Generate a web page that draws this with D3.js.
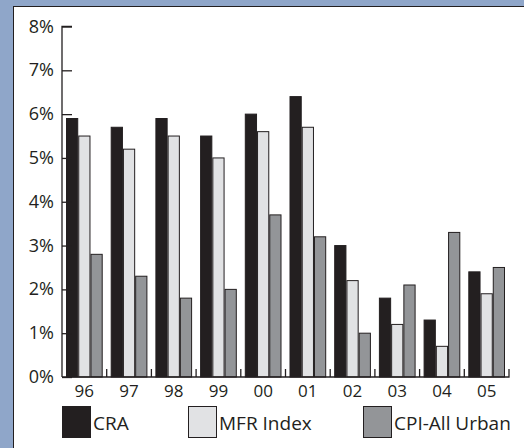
<!DOCTYPE html>
<html>
<head>
<meta charset="utf-8">
<script src="https://cdn.jsdelivr.net/npm/d3@7"></script>
<style>
  html, body { margin: 0; padding: 0; background: #8fa6c9; }
  svg { display: block; }
  text { font-family: "Open Sans", sans-serif; fill: #231f20; }
</style>
</head>
<body>
<div id="chart"></div>
<script>
const years = ["96", "97", "98", "99", "00", "01", "02", "03", "04", "05"];
const seriesNames = ["CRA", "MFR Index", "CPI-All Urban"];
const cra = [5.9, 5.7, 5.9, 5.5, 6.0, 6.4, 3.0, 1.8, 1.3, 2.4];
const mfr = [5.5, 5.2, 5.5, 5.0, 5.6, 5.7, 2.2, 1.2, 0.7, 1.9];
const cpi = [2.8, 2.3, 1.8, 2.0, 3.7, 3.2, 1.0, 2.1, 3.3, 2.5];
const yTicks = [0, 1, 2, 3, 4, 5, 6, 7, 8];
const colors = ["#231f20", "#e1e2e4", "#939598"];

const width = 524, height = 448;
const svg = d3.select("#chart").append("svg").attr("width", width).attr("height", height);

// white panel
svg.append("rect").attr("x", 13.5).attr("y", 6.5).attr("width", width).attr("height", height)
  .attr("fill", "#fff").attr("stroke", "#231f20").attr("stroke-width", 1);

const x0 = d3.scaleBand().domain(years).range([62, 509]).paddingInner(0).paddingOuter(0);
const x1 = d3.scaleBand().domain(seriesNames).range([4, x0.bandwidth() - 4]);
const y = d3.scaleLinear().domain([0, 8]).range([377, 26.5]);

const rows = years.map((yr, i) => ({ yr, vals: [cra[i], mfr[i], cpi[i]] }));

const groups = svg.append("g").selectAll("g").data(rows).enter().append("g")
  .attr("transform", d => `translate(${x0(d.yr)},0)`);
groups.selectAll("rect").data(d => d.vals.map((v, k) => ({ v, k }))).enter().append("rect")
  .attr("x", d => x1(seriesNames[d.k]) + 0.5)
  .attr("width", x1.bandwidth() - 1)
  .attr("y", d => y(d.v))
  .attr("height", d => y(0) - y(d.v))
  .attr("fill", d => colors[d.k])
  .attr("stroke", "#231f20")
  .attr("stroke-width", 1);

// y axis
const yAxis = svg.append("g").attr("transform", "translate(62,0)")
  .call(d3.axisRight(y).tickValues(yTicks).tickSize(10).tickFormat(""));
yAxis.selectAll("path, line").attr("stroke", "#231f20").attr("stroke-width", 1.3);
yAxis.select(".domain").attr("d", `M10,${y(8)}H0V${y(0)}`);
svg.append("g").selectAll("text").data(yTicks).enter().append("text")
  .attr("x", 54).attr("y", d => y(d) + 6).attr("text-anchor", "end")
  .attr("font-size", 18).text(d => d + "%");

// x axis
const xAxis = svg.append("g").attr("transform", `translate(0,${y(0)})`)
  .call(d3.axisTop(x0).tickSize(0).tickFormat(""));
xAxis.selectAll("path").attr("stroke", "#231f20").attr("stroke-width", 1.3).attr("d", `M62,0H509V-8`);
svg.append("g").selectAll("line").data(years.slice(1)).enter().append("line")
  .attr("x1", d => x0(d)).attr("x2", d => x0(d)).attr("y1", y(0)).attr("y2", y(0) - 8)
  .attr("stroke", "#231f20").attr("stroke-width", 1.3);
svg.append("g").selectAll("text").data(years).enter().append("text")
  .attr("x", d => x0(d) + x0.bandwidth() / 2).attr("y", 397).attr("text-anchor", "middle")
  .attr("font-size", 17).text(d => d);

// legend
const legendX = [62, 188, 363];
const legend = svg.append("g").selectAll("g").data(seriesNames).enter().append("g")
  .attr("transform", (d, i) => `translate(${legendX[i]},406)`);
legend.append("rect").attr("x", 0.5).attr("y", 0.5).attr("width", 28).attr("height", 31)
  .attr("fill", (d, i) => colors[i]).attr("stroke", "#231f20").attr("stroke-width", 1);
legend.append("text").attr("x", 31).attr("y", 24).attr("font-size", 19).text(d => d);
</script>
</body>
</html>
